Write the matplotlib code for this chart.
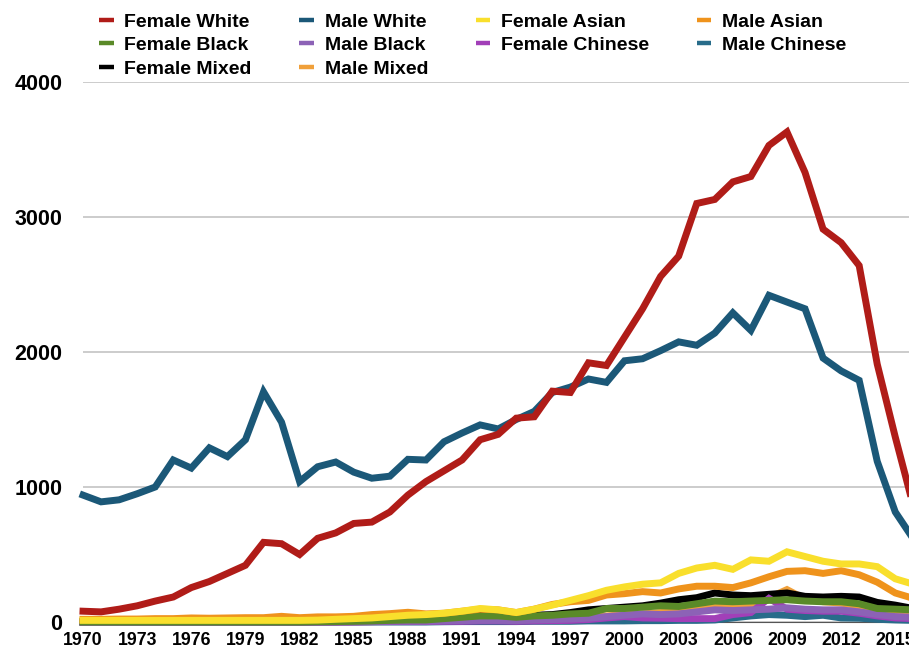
import numpy as np
import matplotlib
matplotlib.use("Agg")
import matplotlib.pyplot as plt

years = list(range(1970, 2017))

female_white = [80, 75, 95, 120, 155, 185, 255, 300, 360, 420, 590, 580, 500, 620, 660, 730,
                740, 815, 940, 1040, 1120, 1200, 1350, 1390, 1510, 1520, 1710, 1700, 1920, 1900,
                2110, 2320, 2560, 2710, 3100, 3130, 3260, 3300, 3530, 3630, 3330, 2910, 2810,
                2640, 1910, 1370, 860]
male_white = [940, 890, 905, 950, 1000, 1200, 1140, 1290, 1225, 1350, 1705, 1480, 1040, 1150,
              1185, 1110, 1065, 1080, 1205, 1200, 1335, 1400, 1460, 1430, 1500, 1560, 1700, 1740,
              1800, 1775, 1935, 1950, 2010, 2075, 2050, 2140, 2290, 2160, 2420, 2370, 2320, 1955,
              1860, 1790, 1190, 815, 615]
female_asian = [12, 12, 12, 12, 12, 12, 12, 12, 12, 12, 12, 12, 12, 14, 20, 25, 30, 40, 50, 55,
                65, 80, 100, 90, 70, 95, 125, 160, 195, 235, 260, 280, 290, 360, 400, 420, 390,
                460, 450, 520, 485, 450, 430, 430, 410, 320, 280]
male_asian = [20, 20, 22, 22, 25, 25, 30, 28, 30, 32, 32, 42, 32, 38, 38, 42, 55, 62, 72, 60,
              65, 80, 95, 90, 70, 95, 130, 150, 160, 200, 210, 225, 215, 245, 265, 265, 255, 290,
              335, 375, 380, 360, 380, 350, 295, 215, 175]
female_black = [0, 0, 0, 0, 0, 0, 0, 0, 0, 0, 0, 0, 0, 2, 3, 5, 8, 12, 15, 15, 25, 35, 45, 45,
                35, 45, 50, 60, 65, 100, 100, 110, 120, 115, 135, 155, 150, 155, 160, 165, 155,
                150, 150, 135, 100, 95, 90]
male_black = [0, 0, 0, 0, 0, 0, 0, 0, 0, 0, 0, 0, 0, 0, 0, 2, 3, 5, 5, 5, 8, 10, 12, 12, 10,
              15, 18, 22, 28, 40, 50, 60, 55, 60, 75, 90, 85, 90, 95, 105, 95, 90, 90, 75, 55,
              40, 35]
female_chinese = [0, 0, 0, 0, 0, 0, 0, 0, 0, 0, 0, 0, 0, 0, 0, 0, 2, 3, 3, 3, 5, 5, 8, 8, 5,
                  8, 10, 12, 18, 30, 40, 30, 28, 25, 25, 25, 55, 70, 175, 95, 85, 80, 80, 65,
                  45, 30, 25]
male_chinese = [0, 0, 0, 0, 0, 0, 0, 0, 0, 0, 0, 0, 0, 0, 0, 0, 0, 0, 0, 0, 2, 3, 3, 3, 3, 5,
                5, 5, 8, 8, 8, 10, 10, 12, 12, 15, 30, 45, 55, 50, 40, 50, 30, 28, 20, 15, 12]
female_mixed = [0, 0, 0, 0, 0, 0, 0, 0, 0, 0, 0, 0, 0, 2, 3, 5, 10, 15, 20, 20, 30, 40, 50, 50,
                40, 50, 55, 70, 90, 100, 110, 120, 140, 165, 180, 215, 200, 195, 205, 215, 190,
                185, 190, 185, 145, 125, 100]
male_mixed = [0, 0, 0, 0, 0, 0, 0, 0, 0, 0, 0, 0, 0, 0, 0, 2, 3, 5, 5, 5, 8, 10, 12, 12, 10,
              15, 20, 25, 35, 45, 55, 60, 70, 85, 110, 120, 115, 130, 180, 240, 170, 150, 140,
              120, 90, 70, 60]

series = [
    ("Female White", female_white, "#b01c18"),
    ("Male White", male_white, "#1b5878"),
    ("Female Asian", female_asian, "#f9df2c"),
    ("Male Asian", male_asian, "#ef931c"),
    ("Female Black", female_black, "#5a8a28"),
    ("Male Black", male_black, "#8c62b6"),
    ("Female Chinese", female_chinese, "#a23fb8"),
    ("Male Chinese", male_chinese, "#286c8a"),
    ("Female Mixed", female_mixed, "#000000"),
    ("Male Mixed", male_mixed, "#f0a03a"),
]

plt.rcParams['font.family'] = ['Liberation Sans', 'DejaVu Sans']
plt.rcParams['font.weight'] = 'bold'

fig = plt.figure(figsize=(9.09, 6.48), dpi=100)
ax = fig.add_axes([83 / 909, 26 / 648, 1 - 83 / 909, 540 / 648])

lines = {}
# draw in reverse so the big series end up on top
for i, (name, vals, col) in reversed(list(enumerate(series))):
    ln, = ax.plot(years, vals, color=col, lw=5, solid_joinstyle='miter',
                  clip_on=False, zorder=3 + (10 - i))
    lines[name] = ln

ax.set_xlim(1970, 2015.76)
ax.set_ylim(0, 4000)
ax.set_xticks(list(range(1970, 2016, 3)))
ax.set_yticks([0, 1000, 2000, 3000, 4000])
ax.tick_params(axis='x', length=0, pad=7, labelsize=12.8)
ax.tick_params(axis='y', length=0, pad=15, labelsize=15.5)
for lab in ax.get_xticklabels() + ax.get_yticklabels():
    lab.set_fontweight('bold')

ax.grid(axis='y', color='#c8c8c8', lw=1.3, zorder=0)
for s in ['top', 'right', 'left']:
    ax.spines[s].set_visible(False)
ax.spines['bottom'].set_color('#555555')
ax.spines['bottom'].set_linewidth(0.8)

# legend laid out row by row like the original (4 columns)
order = ["Female White", "Female Black", "Female Mixed",
         "Male White", "Male Black", "Male Mixed",
         "Female Asian", "Female Chinese",
         "Male Asian", "Male Chinese"]
handles = [plt.Line2D([], [], color=lines[n].get_color(), lw=3.2, solid_capstyle='butt')
           for n in order]
fig.legend(handles, order, loc='upper left', bbox_to_anchor=(99 / 909, 1 - 13 / 648),
           ncol=4, frameon=False, borderpad=0, borderaxespad=0,
           handlelength=0.75, handletextpad=0.55, columnspacing=2.45,
           labelspacing=0.31, prop={'size': 14, 'weight': 'bold'})

fig.savefig("out.png", dpi=100)
